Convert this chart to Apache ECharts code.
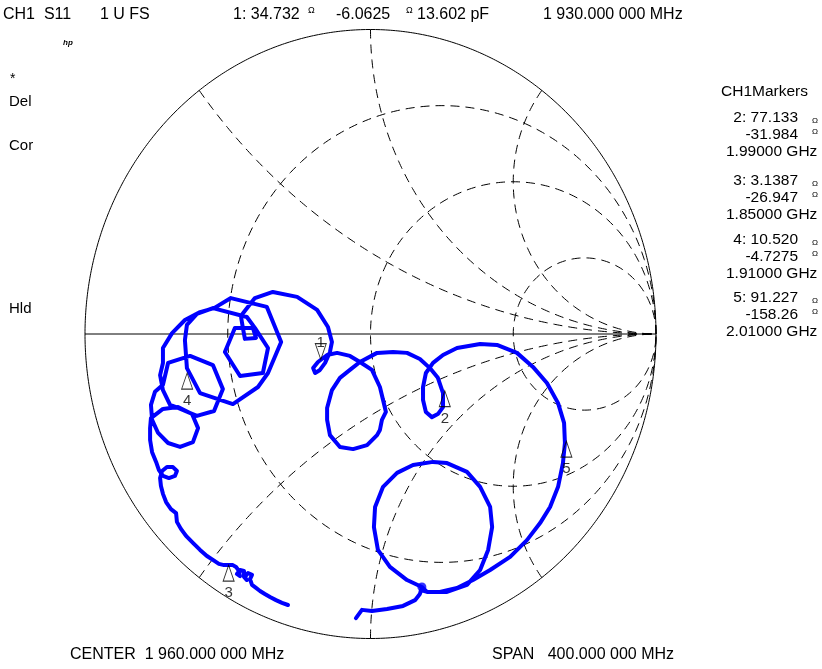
<!DOCTYPE html>
<html><head><meta charset="utf-8">
<script src="https://cdn.jsdelivr.net/npm/echarts@6/dist/echarts.min.js"></script>
<style>html,body{margin:0;padding:0;background:#fff;}#c{width:822px;height:669px;}</style>
</head><body><div id="c"></div>
<script>
const traceRe = [
-0.289,-0.310,-0.331,-0.352,-0.370,-0.387,-0.401,-0.415,-0.422,-0.415,-0.429,-0.440,-0.433,-0.443,-0.443,-0.457,-0.468,-0.457,-0.461,-0.471,
-0.482,-0.492,-0.513,-0.531,-0.552,-0.573,-0.597,-0.622,-0.646,-0.664,-0.678,-0.681,-0.699,-0.716,-0.727,-0.734,-0.737,-0.730,-0.713,-0.692,
-0.678,-0.685,-0.706,-0.727,-0.741,-0.751,-0.765,-0.772,-0.772,-0.769,
-0.727,-0.674,-0.625,-0.604,-0.622,-0.667,-0.709,-0.744,-0.765,-0.769,-0.755,-0.727,-0.709,-0.632,-0.552,-0.517,-0.548,-0.608,-0.674,-0.702,
-0.727,-0.737,-0.727,-0.727,-0.695,-0.650,-0.597,-0.548,-0.489,-0.363,-0.313,-0.359,-0.394,-0.482,-0.597,-0.643,-0.650,-0.643,-0.608,-0.552,
-0.433,-0.405,-0.359,-0.377,-0.457,-0.510,-0.475,-0.412,-0.401,-0.440,-0.447,-0.454,-0.405,-0.342,-0.257,
-0.187,-0.149,-0.135,-0.142,-0.159,-0.177,-0.194,-0.201,-0.184,-0.152,-0.117,-0.072,-0.037,
0.005,0.033,0.044,0.054,0.040,0.033,0.023,-0.012,-0.061,-0.107,-0.142,-0.152,-0.152,-0.135,-0.107,-0.072,-0.037,0.023,0.079,0.128,
0.173,0.208,0.236,0.254,0.254,0.236,0.215,0.194,0.184,0.184,0.194,0.219,0.254,0.303,0.384,0.443,0.513,0.569,0.618,0.657,
0.678,0.681,0.674,0.657,0.629,0.594,0.548,0.489,0.419,0.359,0.303,0.243,0.198,0.180,
0.128,0.068,0.026,0.012,0.016,0.044,0.093,0.149,0.219,0.268,0.338,0.384,0.419,0.426,0.412,0.384,0.338,0.268,0.198,0.177,
0.173,0.156,0.114,0.058,0.005,-0.030,-0.051
];
const traceIm = [
-0.890,-0.883,-0.874,-0.864,-0.854,-0.844,-0.834,-0.824,-0.805,-0.791,-0.785,-0.798,-0.808,-0.798,-0.778,-0.775,-0.788,-0.795,-0.778,-0.765,
-0.759,-0.759,-0.759,-0.755,-0.742,-0.729,-0.709,-0.686,-0.663,-0.640,-0.617,-0.588,-0.575,-0.552,-0.525,-0.499,-0.473,-0.450,-0.437,-0.437,
-0.450,-0.466,-0.473,-0.466,-0.447,-0.420,-0.388,-0.348,-0.309,-0.276,
-0.246,-0.240,-0.263,-0.309,-0.355,-0.371,-0.358,-0.325,-0.282,-0.233,-0.190,-0.167,-0.095,-0.072,-0.102,-0.181,-0.253,-0.269,-0.243,-0.233,
-0.184,-0.135,-0.095,-0.046,0.003,0.046,0.072,0.085,0.118,0.089,-0.026,-0.128,-0.174,-0.230,-0.194,-0.112,-0.020,0.030,0.066,0.085,
0.056,0.020,-0.046,-0.128,-0.138,-0.059,0.020,0.020,-0.013,-0.016,0.020,0.059,0.118,0.138,0.122,
0.079,0.023,-0.026,-0.059,-0.095,-0.118,-0.128,-0.112,-0.092,-0.069,-0.062,-0.072,-0.092,
-0.118,-0.174,-0.217,-0.256,-0.282,-0.315,-0.332,-0.365,-0.378,-0.371,-0.332,-0.282,-0.243,-0.184,-0.144,-0.118,-0.092,-0.062,-0.059,-0.062,
-0.082,-0.112,-0.144,-0.194,-0.240,-0.263,-0.273,-0.256,-0.217,-0.174,-0.128,-0.095,-0.069,-0.046,-0.033,-0.036,-0.062,-0.108,-0.161,-0.227,
-0.292,-0.358,-0.424,-0.502,-0.568,-0.621,-0.677,-0.732,-0.775,-0.808,-0.834,-0.847,-0.847,-0.831,
-0.808,-0.765,-0.709,-0.634,-0.568,-0.502,-0.456,-0.430,-0.420,-0.424,-0.453,-0.502,-0.568,-0.634,-0.709,-0.775,-0.824,-0.847,-0.847,-0.841,
-0.854,-0.874,-0.893,-0.903,-0.910,-0.906,-0.933
];
const knotIndex = 171;

// markers (ohms)
const markerIds = [1, 2, 3, 4, 5];
const markerR = [34.732, 77.133, 3.1387, 10.520, 91.227];
const markerX = [-6.0625, -31.984, -26.947, -4.7275, -158.26];
const markerFreq = ['1.93000', '1.99000', '1.85000', '1.91000', '2.01000'];
const Z0 = 50;

// Smith grid
const gridR = [1/3, 1, 3];
const gridX = [0.5, 1, 2, -0.5, -1, -2];

// annotation text
const headerTexts = ['CH1  S11', '1 U FS', '1: 34.732', '-6.0625', '13.602 pF', '1 930.000 000 MHz'];
const headerX = [3, 100, 233, 336, 417, 543];
const sideTexts = ['*', 'Del', 'Cor', 'Hld'];
const sideY = [79, 102, 146, 309];
const footerTexts = ['CENTER  1 960.000 000 MHz', 'SPAN   400.000 000 MHz'];
const footerX = [70, 492];
const panelY = [118, 181, 240, 298];

const FONT = '"Liberation Sans", Arial, sans-serif';

function gammaOf(R, X) {
  const r = R / Z0, x = X / Z0;
  const d = (r + 1) * (r + 1) + x * x;
  return [(r * r - 1 + x * x) / d, 2 * x / d];
}
function rCircle(r) {
  const c = r / (1 + r), rad = 1 / (1 + r), pts = [];
  for (let i = 0; i <= 720; i++) { const t = i * Math.PI / 360; pts.push([c + rad * Math.cos(t), rad * Math.sin(t)]); }
  return pts;
}
function xArc(x) {
  const ax = Math.abs(x), s = Math.sign(x), R = 1 / ax;
  let a0 = Math.atan2((ax * ax - 1) / (ax * ax + 1), -2 * ax / (ax * ax + 1));
  if (a0 < 0) a0 += 2 * Math.PI;
  const a1 = 1.5 * Math.PI, pts = [];
  for (let i = 0; i <= 400; i++) { const a = a0 + (a1 - a0) * i / 400; pts.push([1 + R * Math.cos(a), s * (R + R * Math.sin(a))]); }
  return pts;
}
function txt(s, x, y, font, align) {
  return { type: 'text', x: x, y: y, silent: true, z: 10,
    style: { text: s, font: font, fill: '#000', textAlign: align || 'left', textVerticalAlign: 'middle' } };
}

const series = [];
const dashStyle = { color: '#000', width: 1, type: [9, 6] };
series.push({ type: 'line', data: rCircle(0), showSymbol: false, silent: true, clip: false, z: 1,
  lineStyle: { color: '#000', width: 1 } });
series.push({ type: 'line', data: [[-1, 0], [1, 0]], showSymbol: false, silent: true, clip: false, z: 1,
  lineStyle: { color: '#000', width: 1 } });
gridR.forEach(r => series.push({ type: 'line', data: rCircle(r), showSymbol: false, silent: true, clip: false, z: 1, lineStyle: dashStyle }));
gridX.forEach(x => series.push({ type: 'line', data: xArc(x), showSymbol: false, silent: true, clip: false, z: 1, lineStyle: dashStyle }));

series.push({ type: 'line', data: traceRe.map((v, i) => [v, traceIm[i]]), showSymbol: false, silent: true, clip: false, z: 3,
  lineStyle: { color: '#0000ff', width: 4, join: 'round', cap: 'round' } });
series.push({ type: 'scatter', data: [[traceRe[knotIndex], traceIm[knotIndex]]], symbolSize: 9, silent: true, z: 3,
  itemStyle: { color: '#0000ff' } });

const mk = markerIds.map((id, i) => gammaOf(markerR[i], markerX[i]));
series.push({ type: 'scatter', symbol: 'triangle', symbolSize: [11, 16], silent: true, z: 5,
  itemStyle: { color: 'rgba(255,255,255,0)', borderColor: '#000', borderWidth: 1 },
  data: markerIds.map((id, i) => ({ value: mk[i], symbolRotate: id === 1 ? 180 : 0, symbolOffset: [0, id === 1 ? -8 : 8] })) });
series.push({ type: 'scatter', symbolSize: 1, silent: true, z: 5, itemStyle: { color: 'rgba(0,0,0,0)' },
  data: markerIds.map((id, i) => ({ value: mk[i],
    label: { show: true, position: 'inside', formatter: String(id), offset: [0, id === 1 ? -17 : 28],
      color: '#000', fontSize: 15, fontFamily: FONT } })) });

const graphics = [];
headerTexts.forEach((s, i) => graphics.push(txt(s, headerX[i], 15, '16px ' + FONT)));
graphics.push(txt('Ω', 308, 11, '9px ' + FONT));
graphics.push(txt('Ω', 406, 11, '9px ' + FONT));
graphics.push(txt('hp', 63, 43, 'italic bold 8px ' + FONT));
sideTexts.forEach((s, i) => graphics.push(txt(s, i === 0 ? 10 : 9, sideY[i], (i === 0 ? '14px ' : '15px ') + FONT)));
footerTexts.forEach((s, i) => graphics.push(txt(s, footerX[i], 655, '16px ' + FONT)));
graphics.push(txt('CH1Markers', 721, 92, '15.5px ' + FONT));
markerIds.forEach((id, i) => {
  if (id === 1) return;
  const y0 = panelY[i - 1];
  graphics.push(txt(id + ': ' + markerR[i].toPrecision(5), 798, y0, '15.5px ' + FONT, 'right'));
  graphics.push(txt(markerX[i].toPrecision(5), 798, y0 + 17, '15.5px ' + FONT, 'right'));
  graphics.push(txt(markerFreq[i] + ' GHz', 726, y0 + 34, '15.5px ' + FONT));
  graphics.push(txt('Ω', 812, y0 + 3, '8px ' + FONT));
  graphics.push(txt('Ω', 812, y0 + 14, '8px ' + FONT));
});

const chart = echarts.init(document.getElementById('c'));
chart.setOption({
  animation: false,
  backgroundColor: '#fff',
  grid: { left: 85, top: 29.5, width: 571, height: 609 },
  xAxis: { type: 'value', min: -1, max: 1, show: false },
  yAxis: { type: 'value', min: -1, max: 1, show: false },
  series: series,
  graphic: graphics
});
</script></body></html>
